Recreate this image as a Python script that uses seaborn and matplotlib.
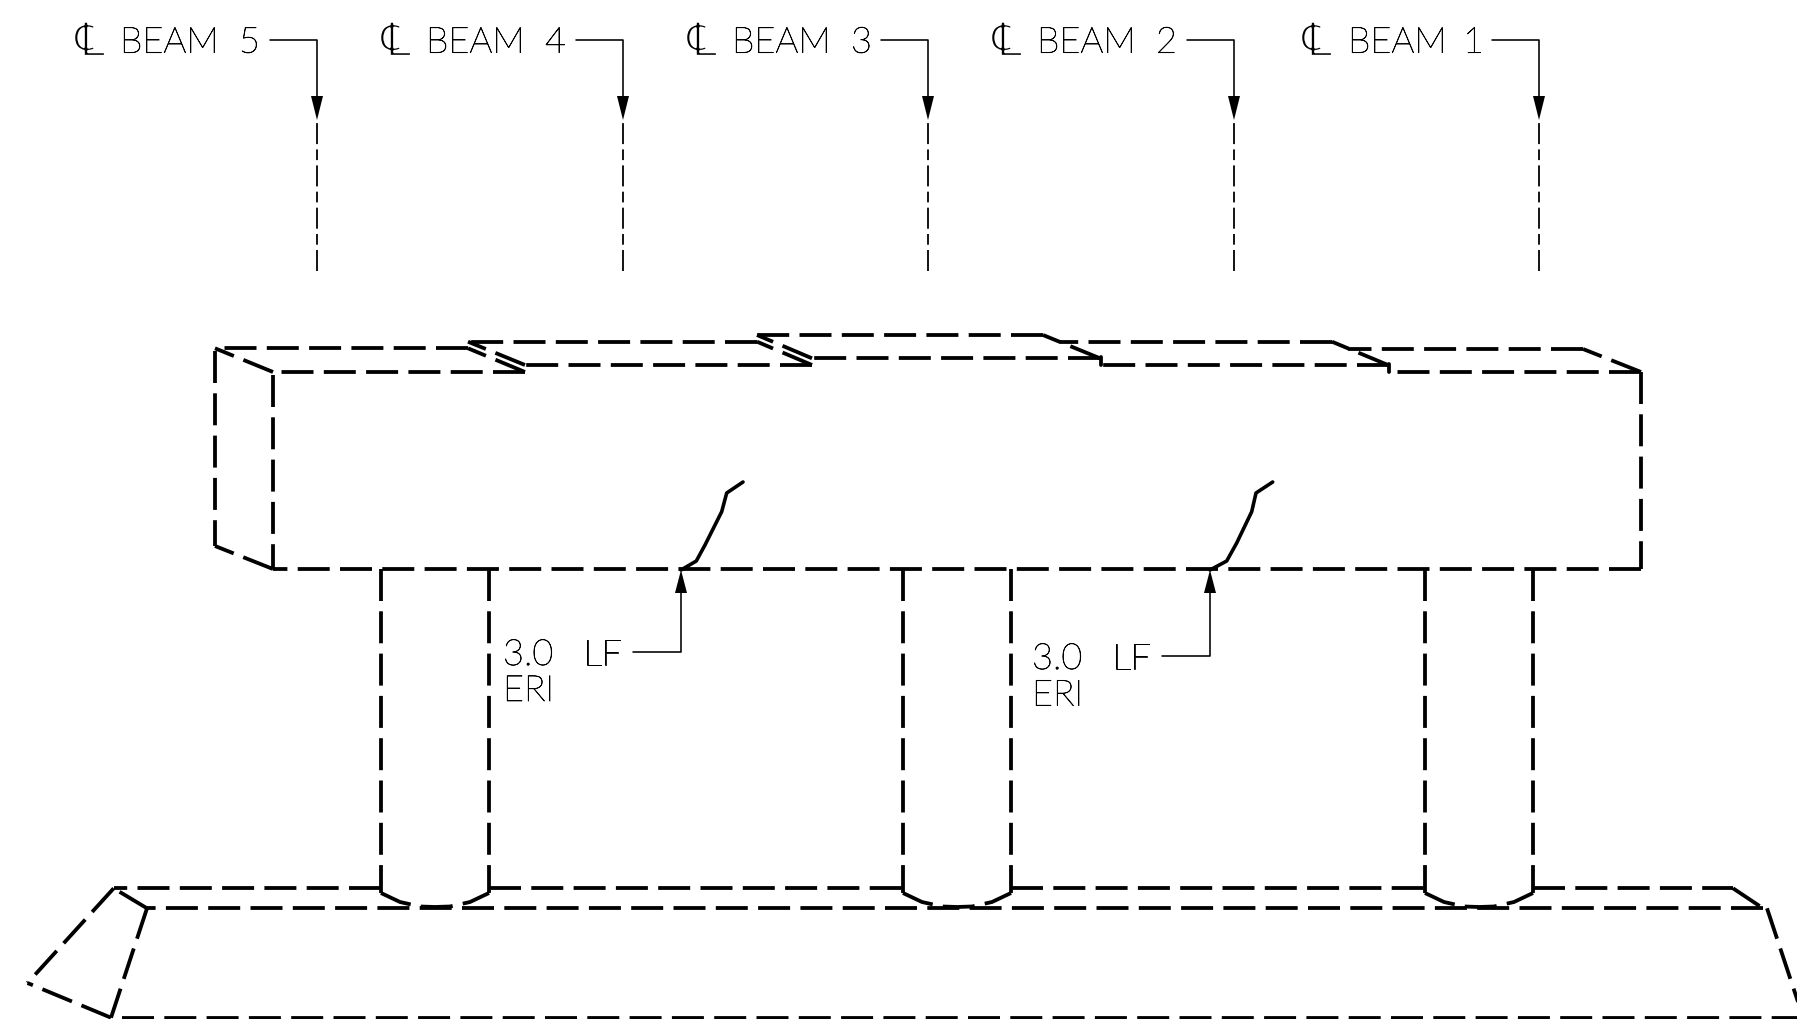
# beam_section.py
# Redraws the beam / pier section sketch, all lengths in picture pixels

import matplotlib
matplotlib.use("Agg")
import matplotlib.pyplot as plt
import matplotlib.patheffects as pe
import seaborn as sns

# centerlines
beam_names = ["5", "4", "3", "2", "1"]
beam_x = [317, 623, 928, 1234, 1539]
symbol_x = [75, 381, 687, 992, 1302]
word_x = [120, 426, 732, 1037, 1348]
number_x = [239, 545, 851, 1156, 1463]
leader_top_y = 40
center_top_y = 122
center_bottom_y = 271

# hidden lines, each one starts where its dash pattern starts
front_edge_x = [[1641, 1389], [1389, 1100], [1100, 812], [812, 525], [525, 273]]
front_edge_y = [[372, 372], [365, 365], [358.3, 358.3], [365, 365], [372, 372]]
back_edge_x = [[1583, 1348], [1332, 1060], [1043, 757], [757, 468], [468, 218]]
back_edge_y = [[348.5, 348.5], [341.7, 341.7], [335, 335], [341.7, 341.7], [348.3, 348.3]]
slant_x = [[1641, 1583], [1388, 1332], [1100, 1043], [812, 757], [812, 757], [525, 468], [525, 468], [273, 215], [273, 215]]
slant_y = [[372, 349], [365, 341.7], [358.3, 335], [358.3, 335], [365, 341.7], [365, 341.7], [372, 348.3], [372, 348.3], [569, 546]]
box_x = [[1641, 273], [1641, 1641], [273, 273], [215, 215]]
box_y = [[569, 569], [372, 569], [375, 569], [351, 546]]
tick_x = [[1389, 1389], [1100.5, 1100.5]]
tick_y = [[364, 372], [357, 365]]

# columns
column_left = [381, 903, 1425]
column_right = [489, 1011, 1533]
column_top = 569
column_bottom = 893
arc_dx = [0, 19, 39, 54, 69, 89, 108]
arc_y = [893, 902, 906.5, 907, 906.5, 902, 893]

# footing
footing_x = [[381, 113.7], [489, 903], [1011, 1425], [1533, 1733], [1763, 147], [122, 1803],
             [113.7, 27.5], [111, 27.5], [147, 111], [147, 113.7], [1733, 1763], [1767, 1803]]
footing_y = [[888.3, 888.3], [888.3, 888.3], [888.3, 888.3], [888.3, 888.3], [908.3, 908.3], [1017.5, 1017.5],
             [888.3, 983], [1017.7, 983], [908.3, 1017.7], [908.3, 888.3], [888.3, 908.3], [908.3, 1017]]

# short breaks
break_x = [[681, 696.3, 705, 721.7, 726.7, 743], [1210, 1226.7, 1236.7, 1251.7, 1256, 1272.7]]
break_y = [[570, 561, 545, 511.7, 493, 482], [570, 561, 543, 511.7, 493, 482]]

# notes
note_tip_x = [681, 1210]
note_tip_y = [570, 570]
note_elbow_y = [652, 656]
note_end_x = [633, 1162]
note_text_x = [503, 1032]
note_unit_x = [583, 1112]
note_line1_y = [665, 669]
note_line2_y = [701, 705.6]
note_length = ["3.0", "3.0"]
note_unit = ["LF", "LF"]
note_line2 = ["ERI", "ERI"]

PX = 0.72  # one pixel in points at dpi 100
HEAVY = dict(lw=3.8 * PX, linestyle=(0, (32 * PX, 10.3 * PX)))
CENTER = dict(lw=1.8 * PX, linestyle=(0, (21 * PX, 5.3 * PX, 10.7 * PX, 5.3 * PX)))
THIN = dict(lw=1.6 * PX)

# the installed light face is very thin, a hair of stroke brings it to the drawn pen weight
PEN = [pe.withStroke(linewidth=0.5, foreground="black")]
# DejaVu has no light face, so the centerline sign is shaved down with white
SHAVE = [pe.Normal(), pe.Stroke(linewidth=1.7, foreground="white")]


# one polyline through seaborn, points stay in the given order
def trace(ax, xs, ys, **style):
    sns.lineplot(x=xs, y=ys, ax=ax, sort=False, estimator=None, errorbar=None,
                 color="black", legend=False, dash_capstyle="butt", **style)


# length is signed, negative points the head downward
def arrow_head(ax, tip_x, tip_y, length, half_width):
    ax.fill([tip_x, tip_x - half_width, tip_x + half_width],
            [tip_y, tip_y + length, tip_y + length], color="black", lw=0)


def label(ax, x, y, text):
    ax.text(x, y, text, fontsize=26, fontweight="light", va="baseline", ha="left",
            color="black", path_effects=PEN)


sns.set_theme(style="white")
plt.rcParams["font.family"] = ["Lato", "DejaVu Sans"]
plt.rcParams["lines.scale_dashes"] = False

fig = plt.figure(figsize=(17.97, 10.19), dpi=100, facecolor="white")
ax = fig.add_axes([0, 0, 1, 1])

for group_x, group_y in [(front_edge_x, front_edge_y), (back_edge_x, back_edge_y), (slant_x, slant_y),
                         (box_x, box_y), (footing_x, footing_y)]:
    for xs, ys in zip(group_x, group_y):
        trace(ax, xs, ys, **HEAVY)

for xs, ys in zip(tick_x, tick_y):
    trace(ax, xs, ys, lw=3.8 * PX)

for left, right in zip(column_left, column_right):
    trace(ax, [left, left], [column_top, column_bottom], **HEAVY)
    trace(ax, [right, right], [column_top, column_bottom], **HEAVY)
    trace(ax, [left + d for d in arc_dx], arc_y, **HEAVY)

for xs, ys in zip(break_x, break_y):
    trace(ax, xs, ys, lw=3.6 * PX)

# beam labels and arrows
for i, name in enumerate(beam_names):
    x = beam_x[i]
    trace(ax, [x, x], [center_bottom_y, center_top_y], **CENTER)
    trace(ax, [x - 47, x, x], [leader_top_y, leader_top_y, 100], **THIN)
    arrow_head(ax, x, 120, -24, 6)
    ax.text(symbol_x[i], 56, "\u2104", family="DejaVu Sans", fontsize=34, va="baseline", ha="left",
            color="black", path_effects=SHAVE)
    label(ax, word_x[i], 52.7, "BEAM")
    label(ax, number_x[i], 52.7, name)

# length notes
for i in range(2):
    trace(ax, [note_end_x[i], note_tip_x[i], note_tip_x[i]],
          [note_elbow_y[i], note_elbow_y[i], note_tip_y[i] + 20], **THIN)
    arrow_head(ax, note_tip_x[i], note_tip_y[i], 23, 6)
    label(ax, note_text_x[i], note_line1_y[i], note_length[i])
    label(ax, note_unit_x[i], note_line1_y[i], note_unit[i])
    label(ax, note_text_x[i], note_line2_y[i], note_line2[i])

ax.set_xlim(0, 1797)
ax.set_ylim(1019, 0)
ax.axis("off")

fig.savefig("out.png", dpi=100)
